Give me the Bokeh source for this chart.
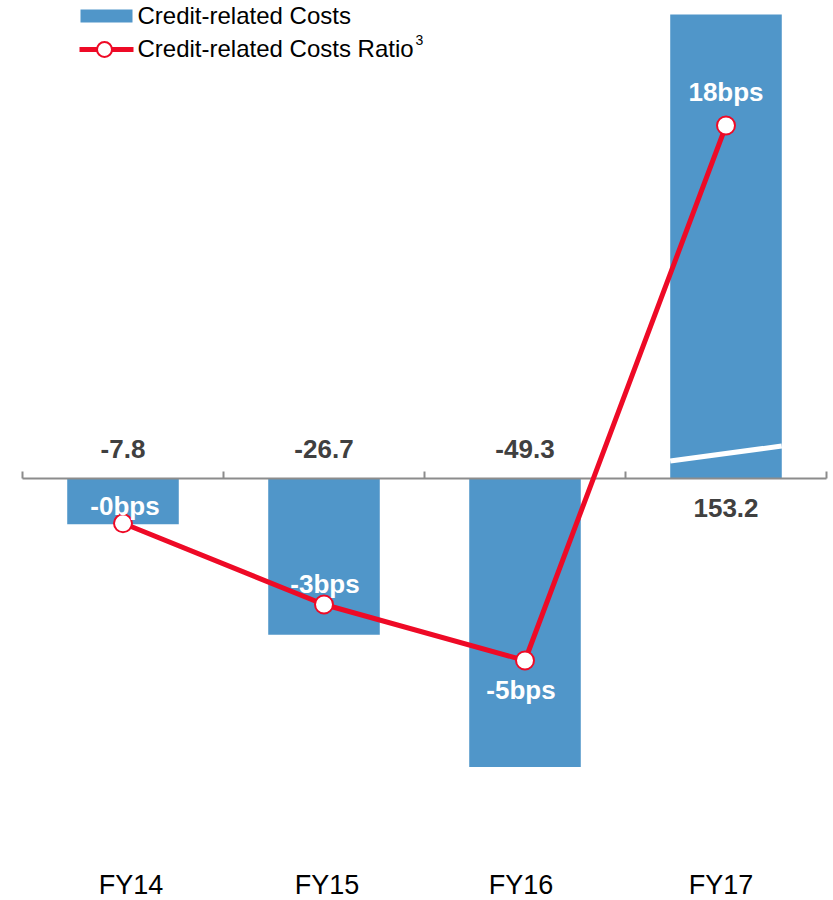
from bokeh.plotting import figure
from bokeh.models import Range1d, ColumnDataSource
from bokeh.core.properties import value
from bokeh.embed import file_html
from bokeh.resources import INLINE

# ---------------- data ----------------
categories = ["FY14", "FY15", "FY16", "FY17"]
credit_costs = [-7.8, -26.7, -49.3, 153.2]          # bars
cost_ratio_bps = [-0.1, -3.0, -5.0, 18.0]           # line (bps)
legend_labels = ["Credit-related Costs", "Credit-related Costs Ratio"]

# ---------------- styles ----------------
BAR_COLOR = "#5096C9"
LINE_COLOR = "#EE0A26"
AXIS_COLOR = "#8C8C8C"
VALUE_COLOR = "#404040"
FONT = "Liberation Sans"

W, H = 830, 900
LEFT = 22                # pixel column of the axis start
X_PX = 201.0             # px per category
Y_PX = 5.85              # px per unit of credit costs
ZERO = 478               # pixel row of zero line
x_start = -0.5 - LEFT / X_PX
x_end = x_start + W / X_PX
y_top = ZERO / Y_PX
y_bot = -(H - ZERO) / Y_PX
BAR_CAP = (ZERO - 14) / Y_PX   # broken bar: tall bars are cut at the top

RATIO_PX = 28
RATIO_ZERO = 520
r_top = RATIO_ZERO / RATIO_PX
r_bot = -(H - RATIO_ZERO) / RATIO_PX
RATIO_COMPRESS = 0.7837  # broken axis: positive ratios are compressed

BAR_W = 0.555

n = len(categories)
xs = list(range(n))

def px_x(px):  # pixel column -> data x
    return x_start + px / X_PX

def px_y(py):  # pixel row -> data y
    return y_top - py / Y_PX

p = figure(width=W, height=H, output_backend="svg", toolbar_location=None,
           x_range=Range1d(x_start, x_end), y_range=Range1d(y_bot, y_top),
           min_border=0)
p.extra_y_ranges = {"ratio": Range1d(r_bot, r_top)}
p.xaxis.visible = False
p.yaxis.visible = False
p.xgrid.visible = False
p.ygrid.visible = False
p.outline_line_color = None

# bars (broken at BAR_CAP)
bar_top = [min(v, BAR_CAP) if v > 0 else 0 for v in credit_costs]
bar_bottom = [v if v < 0 else 0 for v in credit_costs]
p.vbar(x=xs, width=BAR_W, top=bar_top, bottom=bar_bottom,
       fill_color=BAR_COLOR, line_color=None)

# break marks on bars that exceed the cap
brk_x0, brk_x1, brk_y0, brk_y1 = [], [], [], []
for i, v in enumerate(credit_costs):
    if v > BAR_CAP:
        brk_x0.append(i - BAR_W / 2)
        brk_x1.append(i + BAR_W / 2)
        brk_y0.append(17.5 / Y_PX)
        brk_y1.append(32.5 / Y_PX)
p.segment(x0=brk_x0, y0=brk_y0, x1=brk_x1, y1=brk_y1,
          line_color="white", line_width=5)

# zero axis with upward ticks at category boundaries
bounds = [i - 0.5 for i in range(n + 1)]
p.segment(x0=[bounds[0]], y0=[0], x1=[bounds[-1]], y1=[0],
          line_color=AXIS_COLOR, line_width=2)
p.segment(x0=bounds, y0=[0] * len(bounds), x1=bounds,
          y1=[7 / Y_PX] * len(bounds), line_color=AXIS_COLOR, line_width=2)

# value labels for bars
val_src = ColumnDataSource(dict(
    x=xs, y=[0] * n,
    text=[f"{v:.1f}" for v in credit_costs],
    dy=[-30 if v < 0 else 29 for v in credit_costs],
))
p.text(x="x", y="y", text="text", y_offset="dy", source=val_src,
       text_font=value(FONT), text_font_size="26px", text_font_style="bold",
       text_color=VALUE_COLOR, text_align="center", text_baseline="middle")

# ratio line (on secondary, broken scale)
ratio_plot = [v if v <= 0 else v * RATIO_COMPRESS for v in cost_ratio_bps]
p.line(x=xs, y=ratio_plot, y_range_name="ratio",
       line_color=LINE_COLOR, line_width=5)
p.scatter(x=xs, y=ratio_plot, y_range_name="ratio", size=18,
          fill_color="white", line_color=LINE_COLOR, line_width=2)

ratio_src = ColumnDataSource(dict(
    x=xs, y=ratio_plot,
    text=[f"{v:.0f}bps" for v in cost_ratio_bps],
    dx=[2, 1, -4, 0],
    dy=[-17, -21, 29, -34],
))
p.text(x="x", y="y", text="text", x_offset="dx", y_offset="dy",
       source=ratio_src, y_range_name="ratio",
       text_font=value(FONT), text_font_size="26px", text_font_style="bold",
       text_color="white", text_align="center", text_baseline="middle")

# category labels
cat_src = ColumnDataSource(dict(
    x=xs, y=[px_y(884)] * n, text=categories, dx=[8, 3, -4, -5],
))
p.text(x="x", y="y", text="text", x_offset="dx", source=cat_src,
       text_font=value(FONT), text_font_size="27px", text_color="black",
       text_align="center", text_baseline="middle")

# legend
p.quad(left=[px_x(80)], right=[px_x(132)], top=[px_y(9)], bottom=[px_y(22)],
       fill_color=BAR_COLOR, line_color=None)
p.line(x=[px_x(79), px_x(133)], y=[px_y(49), px_y(49)],
       line_color=LINE_COLOR, line_width=5)
p.scatter(x=[px_x(104)], y=[px_y(49)], size=15, fill_color="white",
          line_color=LINE_COLOR, line_width=2)
p.text(x=[px_x(137), px_x(137)], y=[px_y(15), px_y(48)], text=legend_labels,
       text_font=value(FONT), text_font_size="24px", text_color="black",
       text_align="left", text_baseline="middle")
p.text(x=[px_x(415)], y=[px_y(39)], text=["3"],
       text_font=value(FONT), text_font_size="14px", text_color="black",
       text_align="left", text_baseline="middle")

open("out.html", "w").write(file_html(p, INLINE))
